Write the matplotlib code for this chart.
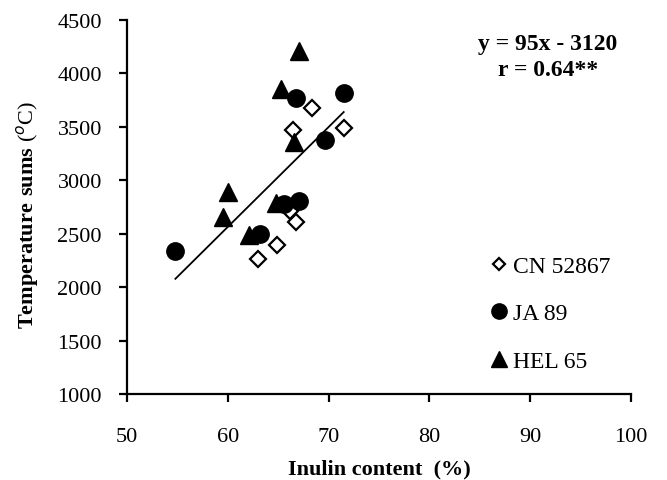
import numpy as np
import matplotlib.pyplot as plt

plt.rcParams['font.family'] = ['Liberation Serif', 'DejaVu Serif']
plt.rcParams['mathtext.fontset'] = 'custom'
plt.rcParams['mathtext.rm'] = 'Liberation Serif'
plt.rcParams['mathtext.bf'] = 'Liberation Serif:bold'

# CN 52867
cn_x = [68.4, 71.5, 66.5, 66.2, 66.8, 64.9, 63.0]
cn_y = [3675, 3490, 3465, 2715, 2605, 2390, 2265]
# JA 89
ja_x = [54.8, 66.8, 71.5, 69.6, 65.6, 67.1, 63.2]
ja_y = [2335, 3765, 3810, 3375, 2780, 2800, 2500]
# HEL 65
hel_x = [67.1, 65.3, 66.6, 60.0, 59.5, 64.8, 62.1]
hel_y = [4210, 3850, 3360, 2885, 2655, 2785, 2490]

x_ticks = [50, 60, 70, 80, 90, 100]
y_ticks = [1000, 1500, 2000, 2500, 3000, 3500, 4000, 4500]

fig = plt.figure(figsize=(6.67, 4.81), dpi=100)
ax = fig.add_axes([0.1904, 0.1788, 0.7556, 0.7782])

ax.plot(cn_x, cn_y, 'D', ms=8.5, mfc='white', mec='black', mew=1.6,
        label='CN 52867', zorder=3)
ax.plot(ja_x, ja_y, 'o', ms=12.5, color='black', label='JA 89', zorder=3)
ax.plot(hel_x, hel_y, '^', ms=13, color='black', label='HEL 65', zorder=3)

# linear trend over all points
all_x = np.array(cn_x + ja_x + hel_x)
all_y = np.array(cn_y + ja_y + hel_y)
k, b = np.polyfit(all_x, all_y, 1)
xs = np.array([all_x.min(), all_x.max()])
ax.plot(xs, k * xs + b, color='black', lw=1.3, zorder=2)

ax.set_xlim(50, 100)
ax.set_ylim(1000, 4500)
ax.set_xticks(x_ticks)
ax.set_yticks(y_ticks)
ax.tick_params(labelsize=16, direction='out', length=6, width=1.6)
ax.tick_params(axis='x', pad=18)
ax.tick_params(axis='y', pad=12)
for s in ['top', 'right']:
    ax.spines[s].set_visible(False)
for s in ['left', 'bottom']:
    ax.spines[s].set_linewidth(1.6)

ax.set_xlabel('Inulin content  (%)', fontsize=16, fontweight='bold', va='top')
ax.xaxis.set_label_coords(0.5, -0.173)
fig.text(28 / 667, 1 - 215 / 481, r'$\bf{Temperature\ sums}$ ($^{o}$C)',
         rotation=90, ha='center', va='center', fontsize=16)

ax.text(0.835, 0.965, 'y = 95x - 3120\nr = 0.64**', transform=ax.transAxes,
        ha='center', va='top', fontsize=17, fontweight='bold', linespacing=1.35)

leg = ax.legend(loc='center left', bbox_to_anchor=(0.698, 0.215), frameon=False,
                fontsize=17, labelspacing=1.1, handlelength=0.7,
                handletextpad=0.25, numpoints=1, borderpad=0)
for h, size in zip(leg.legend_handles, [6.5, 11, 11.5]):
    h.set_markersize(size)

fig.savefig('out.png', dpi=100)
